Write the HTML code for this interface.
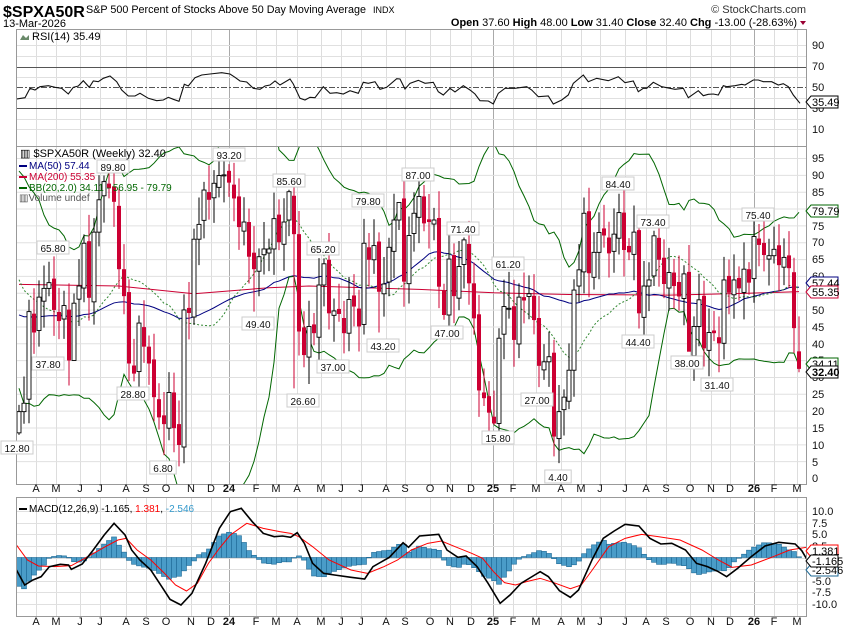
<!DOCTYPE html>
<html><head><meta charset="utf-8"><style>
html,body{margin:0;padding:0;background:#fff;}
svg{display:block;font-family:"Liberation Sans",Arial,sans-serif;}
.ax{font-size:11px;fill:#111;}
.lb{font-size:10px;fill:#111;}
</style></head><body>
<svg id="s" width="850" height="633" viewBox="0 0 850 633" xmlns="http://www.w3.org/2000/svg">
<defs>
<clipPath id="cp"><rect x="17" y="146" width="789" height="338"/></clipPath>
<clipPath id="cr"><rect x="17" y="29" width="789" height="117"/></clipPath>
<clipPath id="cm"><rect x="17" y="497" width="789" height="119"/></clipPath>
</defs>
<rect x="0" y="0" width="850" height="633" fill="#fff"/>
<g id="grid"></g>
<g id="rsi" clip-path="url(#cr)"></g>
<g id="price" clip-path="url(#cp)"></g>
<g id="macd" clip-path="url(#cm)"></g>
<g id="frames" fill="none" stroke="#999" stroke-width="1">
<rect x="16.5" y="29.5" width="790" height="117"/>
<rect x="16.5" y="146.5" width="790" height="338"/>
<rect x="16.5" y="497.5" width="790" height="119"/>
</g>
<!-- header -->
<text x="3" y="17" font-size="16" font-weight="bold" fill="#000">$SPXA50R</text>
<text x="86" y="13" font-size="11" fill="#000" textLength="280" lengthAdjust="spacingAndGlyphs">S&amp;P 500 Percent of Stocks Above 50 Day Moving Average</text>
<text x="373" y="13" font-size="9" fill="#000">INDX</text>
<text x="3" y="27" font-size="11" fill="#000">13-Mar-2026</text>
<text x="806" y="13" font-size="11" fill="#333" text-anchor="end">© StockCharts.com</text>
<text x="797" y="26" font-size="11" fill="#000" text-anchor="end"><tspan font-weight="bold">Open</tspan> 37.60  <tspan font-weight="bold">High</tspan> 48.00  <tspan font-weight="bold">Low</tspan> 31.40  <tspan font-weight="bold">Close</tspan> 32.40  <tspan font-weight="bold">Chg</tspan> -13.00 (-28.63%)</text>
<path d="M800 21 L806 21 L803 25 Z" fill="#990033"/>
<!-- panel legends -->
<path d="M20 40 L23 35 L26 38 L29 35 L29 40 Z" fill="#6a8a6a"/>
<text x="32" y="40" font-size="11" fill="#000">RSI(14) 35.49</text>
<text x="20" y="157" font-size="11" fill="#000">▥ $SPXA50R (Weekly) 32.40</text>
<rect x="19" y="165" width="8" height="2" fill="#000080"/><text x="29" y="169" font-size="10" fill="#000080">MA(50) 57.44</text>
<rect x="19" y="176" width="8" height="2" fill="#cc0033"/><text x="29" y="180" font-size="10" fill="#cc0033">MA(200) 55.35</text>
<rect x="19" y="187" width="8" height="2" fill="#006600"/><text x="29" y="191" font-size="10" fill="#006600">BB(20,2.0) 34.11 - 56.95 - 79.79</text>
<text x="19" y="201" font-size="10" fill="#555">▥Volume undef</text>
<rect x="19" y="508" width="8" height="2" fill="#000"/>
<text x="29" y="512" font-size="10" fill="#000">MACD(12,26,9) -1.165, <tspan fill="#ff0000">1.381</tspan>, <tspan fill="#3399cc">-2.546</tspan></text>
<g id="labels"></g>
<g id="axes" class="ax">
<text x="812" y="49">90</text><text x="812" y="70">70</text><text x="812" y="91">50</text><text x="812" y="112">30</text><text x="812" y="133">10</text>
<text x="812" y="162">95</text><text x="812" y="179">90</text><text x="812" y="196">85</text><text x="812" y="213">80</text><text x="812" y="230">75</text><text x="812" y="246">70</text><text x="812" y="263">65</text><text x="812" y="280">60</text><text x="812" y="297">55</text><text x="812" y="314">50</text><text x="812" y="331">45</text><text x="812" y="348">40</text><text x="812" y="364">35</text><text x="812" y="381">30</text><text x="812" y="398">25</text><text x="812" y="415">20</text><text x="812" y="432">15</text><text x="812" y="449">10</text><text x="812" y="466">5</text><text x="812" y="482">0</text>
<text x="812" y="515">10.0</text><text x="812" y="527">7.5</text><text x="812" y="538">5.0</text><text x="812" y="550">2.5</text><text x="812" y="585">-5.0</text><text x="812" y="596">-7.5</text><text x="812" y="608">-10.0</text>
</g>
<g id="tags" font-size="11"></g>
<g id="months" class="ax" text-anchor="middle"></g>
</svg>
<script>
(function(){
var NS="http://www.w3.org/2000/svg";
function el(p,t,a){var e=document.createElementNS(NS,t);for(var k in a)e.setAttribute(k,a[k]);p.appendChild(e);return e;}
var G=function(id){return document.getElementById(id);};
var py=function(v){return 478-v*3.368;}, ry=function(v){return 139.5-1.05*v;}, my=function(v){return 557.5-4.65*v;};
var C=[19.7,22.2,49.4,43.2,53.7,56.3,58,49.9,46.6,51.2,34.9,51.9,57,69.7,53.5,73,82.6,88,86,82,62,54,34,31,46,39,34,24,18,16,25.4,14.8,9.8,49.9,49,70.9,75.3,85.5,82.6,87.5,89.8,90,87.7,83,74.5,76,65.7,62,65.7,68,68,77,70,76,85,72.4,43.5,36.5,45,43,57.3,63.6,48.9,49.6,48.7,43,53,50.9,45,69.7,64.8,69,55.3,57.6,68.5,76.6,81.8,58.3,72,78.6,83.6,75.6,76,76.6,56.8,48.4,65,54,62.8,70.7,57.8,47.4,26,23.7,19.4,16.2,41.5,50.9,50.4,41,53.7,52.7,54.7,46.9,33.3,34.5,36,12.3,19.7,24,32,55.8,61.8,78.6,60.8,67,72.9,72,66.7,72.4,78.8,67.7,67,73,48.9,57,58.8,71.9,64.8,57.6,61,57,53.9,60.6,37.5,45,52.9,38.5,43.2,43,40,58.8,55,58.8,56.3,62,58,71.7,69.2,66.2,66,67.9,63.2,65.5,62.3,44.5,32.4];
var N=C.length; var X=function(i){return 19+i*(780/(N-1));};
var months=[["A",36],["M",56],["J",80],["J",100],["A",126],["S",146],["O",166],["N",191],["D",211],["24",229,1],["F",256],["M",276],["A",297],["M",321],["J",341],["J",361],["A",386],["S",405],["O",430],["N",450],["D",471],["25",493,1],["F",513],["M",536],["A",561],["M",581],["J",600],["J",625],["A",646],["S",666],["O",690],["N",711],["D",730],["26",754,1],["F",774],["M",797]];
var g=G("grid");
months.forEach(function(m){
 var c=m[2]?"#aaa":"#ddd";
 [[29,146],[146,484],[497,616]].forEach(function(r){el(g,"line",{x1:m[1]+.5,x2:m[1]+.5,y1:r[0],y2:r[1],stroke:c,"stroke-width":1});});
 [492,625].forEach(function(y){var t=el(G("months"),"text",{x:m[1],y:y});t.textContent=m[0];if(m[2])t.setAttribute("font-weight","bold");});
});
for(var v=5;v<=95;v+=5)el(g,"line",{x1:17,x2:806,y1:py(v)+.5,y2:py(v)+.5,stroke:"#e0e0e0"});
[10,20,40,60,80,90].forEach(function(v){el(g,"line",{x1:17,x2:806,y1:Math.round(ry(v))+.5,y2:Math.round(ry(v))+.5,stroke:"#e0e0e0"});});
for(var v=-10;v<=10;v+=2.5)el(g,"line",{x1:17,x2:806,y1:Math.round(my(v))+.5,y2:Math.round(my(v))+.5,stroke:"#e0e0e0"});
var R=G("rsi");
el(R,"line",{x1:17,x2:806,y1:67.5,y2:67.5,stroke:"#555"});
el(R,"line",{x1:17,x2:806,y1:108.5,y2:108.5,stroke:"#555"});
el(R,"line",{x1:17,x2:806,y1:87.5,y2:87.5,stroke:"#555","stroke-dasharray":"6,2,2,2"});
var r1=[[50,297],[75,293],[90,265],[105,270],[120,260],[145,257],[165,262],[185,265],[205,282],[220,262],[235,258],[250,242],[268,262],[280,243],[295,245],[310,235],[330,228],[350,245],[365,270],[385,288],[405,288],[420,280],[445,295],[470,302],[490,300],[505,292],[520,298],[537,304],[553,253],[565,258],[585,233],[605,225],[630,222],[665,218],[690,222],[705,232],[720,243],[740,246],[760,265],[780,268],[795,258],[810,255],[825,243],[840,255],[870,237],[880,252],[900,295],[915,300],[930,292],[945,293],[970,260],[990,280],[1010,278],[1030,282],[1050,272],[1075,280],[1090,247],[1105,250],[1125,245],[1140,268],[1160,262],[1190,236],[1200,237],[1215,267],[1230,250],[1255,241]];
var r2=[[0,250],[25,247],[40,275],[55,285],[75,265],[90,276],[115,257],[135,270],[150,282],[165,302],[190,303],[205,312],[220,280],[240,265],[270,265],[305,260],[320,270],[340,290],[370,288],[385,312],[410,300],[430,285],[445,250],[475,225],[490,245],[515,235],[550,242],[580,230],[600,248],[625,243],[640,275],[655,265],[665,265],[685,247],[710,260],[750,268],[775,265],[790,293],[820,272],[835,287],[850,283],[865,282],[880,285],[895,257],[905,260],[930,257],[950,253],[960,255],[985,240],[1000,240],[1015,245],[1040,245],[1060,255],[1075,251],[1090,260],[1105,285],[1125,310]];
var rp=r1.map(function(p){return (p[0]/3).toFixed(1)+","+(p[1]/3).toFixed(1);}).concat(r2.map(function(p){return (425+p[0]/3).toFixed(1)+","+(p[1]/3).toFixed(1);}));
el(R,"polyline",{points:rp.join(" "),fill:"none",stroke:"#111","stroke-width":1.1});
var P=G("price");
var pad=[80,85,78,70,72,82,75,60,55,65,70,58,50,45,55,60,40,48,55,35];
var A=pad.concat(C);
var up=[],lo=[],mid=[],m50=[];
var A50=[];for(var k=0;k<49;k++)A50.push(49);A50=A50.concat(C);
for(var i=0;i<N;i++){
 var w=A.slice(i+1,i+21),m=0;w.forEach(function(v){m+=v;});m/=20;var s=0;w.forEach(function(v){s+=(v-m)*(v-m);});s=Math.sqrt(s/20);
 up.push(X(i)+","+py(m+2*s));lo.push(X(i)+","+py(m-2*s));mid.push(X(i)+","+py(m));
 var w2=A50.slice(i,i+50),m2=0;w2.forEach(function(v){m2+=v;});m2/=50;m50.push(X(i)+","+py(m2));
}
var ma200=[[0,57.5],[20,57],[35,54.7],[50,56.5],[58,57],[80,56],[95,55],[110,54.5],[130,54.3],[145,54.8],[156,55.35]].map(function(p){return X(p[0])+","+py(p[1]);});
el(P,"polyline",{points:ma200.join(" "),fill:"none",stroke:"#cc0033","stroke-width":1});
el(P,"polyline",{points:m50.join(" "),fill:"none",stroke:"#000080","stroke-width":1});
el(P,"polyline",{points:mid.join(" "),fill:"none",stroke:"#338833","stroke-width":1,"stroke-dasharray":"2,2"});
el(P,"polyline",{points:up.join(" "),fill:"none",stroke:"#006600","stroke-width":1});
el(P,"polyline",{points:lo.join(" "),fill:"none",stroke:"#006600","stroke-width":1});
var ext={0:[null,12.8],7:[65.8,null],11:[null,37.8],17:[89.8,null],22:[null,28.8],29:[null,6.8],42:[93.2,null],47:[null,49.4],54:[85.6,null],55:[null,26.6],61:[65.2,null],65:[null,37],76:[79.8,null],72:[null,43.2],81:[87,null],89:[71.4,null],85:[null,47],98:[61.2,null],95:[null,15.8],104:[null,27],108:[null,4.4],120:[84.4,null],127:[73.4,null],124:[null,44.4],134:[null,38],140:[null,31.4],148:[75.4,null]};
for(var i=0;i<N;i++){
 var c=C[i],o=i==0?13.4:(i==N-1?37.6:C[i-1]+((i*7)%5-2)*0.6);
 var hi=Math.max(o,c)+2+Math.abs(Math.sin(i*1.7))*6,lw=Math.min(o,c)-2-Math.abs(Math.cos(i*1.3))*6;
 if(i==N-1){hi=48;lw=31.4;}
 if(ext[i]){if(ext[i][0]!=null)hi=ext[i][0];if(ext[i][1]!=null)lw=ext[i][1];}
 lw=Math.max(lw,0.5);
 var x=X(i),upc=c>=o,col=upc?"#000":"#cc0033";
 el(P,"line",{x1:x,x2:x,y1:py(hi),y2:py(lw),stroke:col,"stroke-width":1});
 var t=py(Math.max(o,c)),b=py(Math.min(o,c));if(b-t<1)b=t+1;
 el(P,"rect",{x:x-2,y:t,width:4,height:b-t,fill:upc?"#fff":"#cc0033",stroke:col,"stroke-width":upc?0.9:0});
}
var M=G("macd");
var ml=[[30,300],[45,345],[60,330],[75,320],[90,290],[110,283],[125,285],[130,298],[150,282],[170,240],[190,195],[208,160],[228,195],[240,240],[255,270],[275,300],[295,350],[310,388],[330,405],[350,370],[375,280],[400,175],[420,125],[440,115],[460,155],[480,190],[500,200],[515,198],[530,202],[542,188],[555,220],[570,280],[590,310],[610,315],[640,322],[665,327],[680,290],[710,262],[735,218],[745,232],[765,198],[800,193],[815,240],[835,262],[850,258],[870,290],[890,340],[912,400],[930,375],[950,340],[975,315],[985,305],[1000,320],[1020,362],[1040,382],[1055,360],[1080,268],[1100,205],[1120,183],[1140,163],[1165,168],[1185,205],[1205,222],[1225,220],[1250,240],[1270,280],[1290,290],[1310,305],[1325,320],[1345,295],[1370,260],[1395,228],[1420,217],[1450,222],[1462,242],[1475,278]];
var sl=[[30,225],[50,270],[70,288],[100,290],[130,287],[160,260],[190,232],[215,210],[230,205],[250,240],[275,270],[300,310],[320,345],[340,363],[360,340],[380,280],[400,235],[420,195],[450,160],[480,175],[510,185],[530,190],[545,200],[570,230],[600,270],[640,300],[670,310],[700,290],[725,270],[750,240],[780,220],[805,213],[830,230],[860,250],[880,265],[900,305],[920,338],[940,345],[960,335],[985,325],[1010,338],[1040,356],[1060,345],[1080,300],[1110,230],[1140,205],[1170,193],[1200,200],[1240,210],[1280,240],[1310,270],[1335,292],[1370,285],[1410,260],[1440,240],[1470,232]];
function cv(a){return a.map(function(p){return [p[0]*0.5484,470+p[1]/3];});}
ml=cv(ml);sl=cv(sl);
function interp(a,x){if(x<=a[0][0])return a[0][1];for(var k=1;k<a.length;k++){if(x<=a[k][0]){var f=(x-a[k-1][0])/(a[k][0]-a[k-1][0]);return a[k-1][1]+f*(a[k][1]-a[k-1][1]);}}return a[a.length-1][1];}
for(var i=0;i<N;i++){
 var x=X(i);var d=(interp(sl,x)-interp(ml,x))*1.1;
 var y0=557.5,y1=y0-d;
 el(M,"rect",{x:x-2.5,y:Math.min(y0,y1),width:5,height:Math.max(Math.abs(d),0.5),fill:"#4a9cc8",stroke:"#1f6a96","stroke-width":0.6});
}
el(M,"polyline",{points:sl.map(function(p){return p.join(",");}).join(" "),fill:"none",stroke:"#ff0000","stroke-width":1});
el(M,"polyline",{points:ml.map(function(p){return p.join(",");}).join(" "),fill:"none",stroke:"#000","stroke-width":1.6});
var L=G("labels");
var labs=[["12.80",17,448],["37.80",48,364],["65.80",53,248],["89.80",113,167],["28.80",133,394],["6.80",163,468],["93.20",229,155],["49.40",258,324],["85.60",289,181],["26.60",303,401],["65.20",323,249],["37.00",333,367],["79.80",368,201],["43.20",383,346],["87.00",418,175],["71.40",463,229],["47.00",447,333],["61.20",508,264],["15.80",498,438],["27.00",537,400],["4.40",558,477],["84.40",618,184],["73.40",653,222],["44.40",638,342],["38.00",687,363],["31.40",717,385],["75.40",758,215]];
labs.forEach(function(l){var w=l[0].length*5.6+4;
 el(L,"rect",{x:l[1]-w/2,y:l[2]-7,width:w,height:13,fill:"#fff",stroke:"#ccc","stroke-width":1});
 var t=el(L,"text",{x:l[1],y:l[2]+4,"font-size":10,"text-anchor":"middle",fill:"#111"});t.textContent=l[0];});
var T=G("tags");
var tags=[["35.49",102,"#000"],["79.79",211,"#006600"],["57.44",283,"#000080"],["55.35",292,"#cc0033"],["34.11",364,"#006600"],["32.40",372,"#000",1],["1.381",551,"#ff0000"],["-2.546",570,"#1f6a96"],["-1.165",561,"#000"]];
tags.forEach(function(a){var y=a[1];
 el(T,"path",{d:"M806 "+y+" L811 "+(y-6)+" L838 "+(y-6)+" L838 "+(y+6)+" L811 "+(y+6)+" Z",fill:"#fff",stroke:a[2],"stroke-width":1});
 var t=el(T,"text",{x:812,y:y+4,fill:"#000","font-size":11});if(a[3])t.setAttribute("font-weight","bold");t.textContent=a[0];});
})();
</script>
</body></html>
